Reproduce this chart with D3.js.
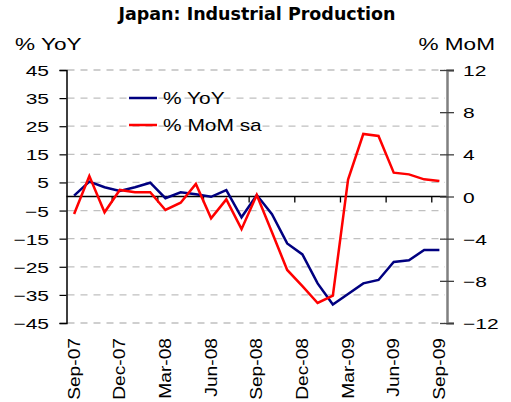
<!DOCTYPE html>
<html>
<head>
<meta charset="utf-8">
<script src="https://cdn.jsdelivr.net/npm/d3@7"></script>
<style>
  body { margin: 0; background: #fff; }
  svg { display: block; }
  text { font-family: "Liberation Sans", Arial, sans-serif; fill: #000; }
</style>
</head>
<body>
<div class="chart"></div>
<script>
// values
const months = ["Sep-07", "Oct-07", "Nov-07", "Dec-07", "Jan-08", "Feb-08", "Mar-08", "Apr-08", "May-08",
  "Jun-08", "Jul-08", "Aug-08", "Sep-08", "Oct-08", "Nov-08", "Dec-08", "Jan-09", "Feb-09", "Mar-09",
  "Apr-09", "May-09", "Jun-09", "Jul-09", "Aug-09", "Sep-09"]
const yoy = [0.3, 5.3, 3.3, 2.0, 3.3, 4.9, -0.6, 1.5, 0.8, -0.1, 2.3, -7.4, 0.5, -6.3, -16.7, -20.6,
  -30.9, -38.4, -34.7, -30.9, -29.7, -23.3, -22.7, -19.0, -19.0]
const mom = [-1.66, 1.94, -1.5, 0.62, 0.4, 0.4, -1.28, -0.59, 1.19, -2.07, -0.27, -3.1, 0.14, -3.4,
  -6.97, -8.5, -10.1, -9.4, 1.6, 5.93, 5.74, 2.26, 2.1, 1.63, 1.47]
const leftTicks = [-45, -35, -25, -15, -5, 5, 15, 25, 35, 45]
const rightTicks = [-12, -8, -4, 0, 4, 8, 12]
const xLabels = ["Sep-07", "Dec-07", "Mar-08", "Jun-08", "Sep-08", "Dec-08", "Mar-09", "Jun-09", "Sep-09"]
const seriesNames = ["% YoY", "% MoM sa"]

const width = 511, height = 402
const m = { left: 66.5, right: 447, top: 70, bottom: 323 }

const svg = d3.select(".chart").append("svg")
  .attr("width", width)
  .attr("height", height)

const x = d3.scaleBand().domain(months).range([m.left, m.right])
const cx = d => x(d) + x.bandwidth() / 2
const yL = d3.scaleLinear().domain([-45, 45]).range([m.bottom, m.top])
const yR = d3.scaleLinear().domain([-12, 12]).range([m.bottom, m.top])

// stretched text helper (the original font is wide)
const stretch = (sel, sx) => sel.each(function () {
  const t = d3.select(this)
  const tx = +t.attr("x") || 0, ty = +t.attr("y") || 0
  t.attr("x", 0).attr("y", 0)
    .attr("transform", "translate(" + tx + "," + ty + ") scale(" + sx + ",1)")
})

// gridlines
svg.append("g").selectAll("line")
  .data(leftTicks)
  .enter().append("line")
  .attr("x1", m.left + 1).attr("x2", m.right - 2)
  .attr("y1", d => yL(d)).attr("y2", d => yL(d))
  .attr("stroke", "#c0c0c0")
  .attr("stroke-width", 1.3)
  .attr("stroke-dasharray", "7,6")

// zero line with category ticks
svg.append("line")
  .attr("x1", m.left).attr("x2", m.right)
  .attr("y1", yL(0)).attr("y2", yL(0))
  .attr("stroke", "#000").attr("stroke-width", 1.3)

svg.append("g").selectAll("line")
  .data(months.filter((d, i) => i % 3 == 0 && i > 0))
  .enter().append("line")
  .attr("x1", d => x(d)).attr("x2", d => x(d))
  .attr("y1", yL(0)).attr("y2", yL(0) + 6)
  .attr("stroke", "#000").attr("stroke-width", 1.3)

// left axis
const gl = svg.append("g")
  .attr("transform", "translate(" + m.left + ",0)")
  .call(d3.axisLeft(yL).tickValues(leftTicks).tickSize(7).tickPadding(0))
gl.select(".domain").attr("stroke", "#000").attr("stroke-width", 1.5)
gl.selectAll(".tick line").attr("stroke", "#000").attr("stroke-width", 1.2)
gl.selectAll(".tick text")
  .attr("x", -17.5).attr("dy", null).attr("y", 5.5)
  .style("font-size", "15px")
  .style("font-family", "Liberation Sans, Arial, sans-serif")
  .call(stretch, 1.4)

// right axis
const gr = svg.append("g")
  .attr("transform", "translate(" + m.right + ",0)")
  .call(d3.axisRight(yR).tickValues(rightTicks).tickSize(7).tickPadding(0))
gr.select(".domain").attr("stroke", "#808080").attr("stroke-width", 2.5)
gr.selectAll(".tick line").attr("x1", -7).attr("stroke", "#404040").attr("stroke-width", 1.3)
gr.selectAll(".tick text")
  .attr("x", 16).attr("dy", null).attr("y", 5.5)
  .style("font-size", "15px")
  .style("font-family", "Liberation Sans, Arial, sans-serif")
  .call(stretch, 1.4)

// x labels
svg.append("g").selectAll("text")
  .data(xLabels)
  .enter().append("text")
  .text(d => d)
  .style("font-size", "16px")
  .style("text-anchor", "end")
  .attr("transform", d => "translate(" + (cx(d) + 5.5) + ",338) rotate(-90) scale(1.2,1)")

// lines
const lineL = d3.line().x((d, i) => cx(months[i])).y(d => yL(d))
const lineR = d3.line().x((d, i) => cx(months[i])).y(d => yR(d))

svg.append("path")
  .datum(yoy)
  .attr("d", lineL)
  .attr("fill", "none")
  .attr("stroke", "#000080")
  .attr("stroke-width", 2.5)

svg.append("path")
  .datum(mom)
  .attr("d", lineR)
  .attr("fill", "none")
  .attr("stroke", "#ff0000")
  .attr("stroke-width", 2.5)

// legend
const colors = ["#000080", "#ff0000"]
const legend = svg.append("g").selectAll("g")
  .data(seriesNames)
  .enter().append("g")
  .attr("transform", (d, i) => "translate(129," + (98 + i * 27) + ")")
legend.append("line")
  .attr("x1", 0).attr("x2", 28)
  .attr("stroke", (d, i) => colors[i])
  .attr("stroke-width", 2.5)
legend.append("text")
  .text(d => d)
  .attr("x", 34).attr("y", 5.5)
  .style("font-size", "17px")
  .call(stretch, 1.23)

// titles
svg.append("text")
  .text("Japan: Industrial Production")
  .attr("x", 257).attr("y", 20)
  .style("text-anchor", "middle")
  .style("font-family", "DejaVu Sans, Verdana, sans-serif")
  .style("font-weight", "bold")
  .style("font-size", "17.5px")

svg.append("text")
  .text("% YoY")
  .attr("x", 15).attr("y", 50)
  .style("font-size", "16.5px")
  .call(stretch, 1.37)

svg.append("text")
  .text("% MoM")
  .attr("x", 495).attr("y", 50)
  .style("font-size", "16.5px")
  .style("text-anchor", "end")
  .call(stretch, 1.37)
</script>
</body>
</html>
